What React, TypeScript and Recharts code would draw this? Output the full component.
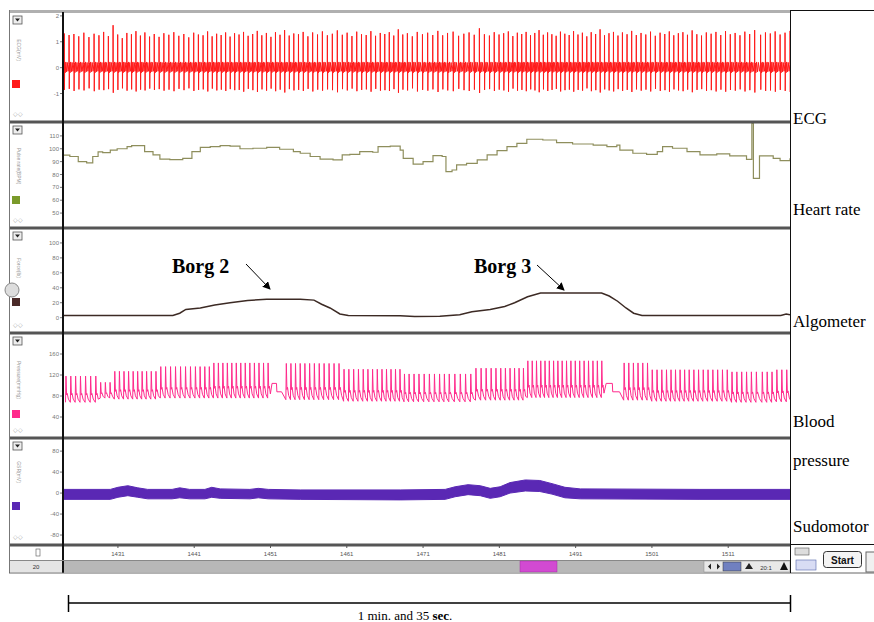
import React from "react";
import { LineChart, Line, XAxis, YAxis, ComposedChart, Area } from "recharts";

// visible time window (s)
const T0 = 1423.8;
const T1 = 1519.1;

const timeTicks = [1431, 1441, 1451, 1461, 1471, 1481, 1491, 1501, 1511];

// heart rate, step values [t, bpm]
const hrSteps = [
  [1423.8, 95], [1424.7, 94], [1425.8, 90], [1426.9, 89], [1427.7, 94], [1428.4, 97.5], [1429.0, 97],
  [1430.0, 99], [1430.9, 100], [1432.2, 101.6], [1432.8, 102.4], [1434.5, 97.7], [1435.6, 95.2],
  [1436.5, 92], [1437.8, 91.5], [1439.5, 92.6], [1440.7, 97.7], [1441.8, 101], [1443.1, 101.6],
  [1444.4, 102.4], [1445.7, 102], [1447.0, 100], [1448.7, 100.4], [1450.5, 101], [1452.2, 99.6],
  [1454.0, 97.7], [1454.9, 96.5], [1456.2, 94], [1457.5, 92], [1459.2, 91.3], [1460.4, 95.2],
  [1461.4, 95.7], [1462.7, 97.7], [1464.4, 97.3], [1465.1, 101.6], [1466.7, 102], [1468.0, 99],
  [1468.4, 92.6], [1469.7, 88], [1471.0, 90], [1472.3, 94.6], [1473.5, 94], [1474.0, 82.2],
  [1474.8, 83.5], [1475.4, 87.4], [1476.7, 88.7], [1478.1, 91.3], [1479.4, 95.2], [1480.7, 98.5],
  [1482.0, 101.6], [1483.3, 104.2], [1484.6, 107.4], [1486.7, 106.8], [1488.5, 104.7], [1490.6, 103.7],
  [1493.3, 102.9], [1495.1, 101.6], [1496.4, 102.9], [1496.8, 99], [1498.5, 96.5], [1500.3, 95.7],
  [1501.7, 97.7], [1502.4, 101.6], [1503.7, 100.4], [1505.6, 97.7], [1507.3, 95.2], [1509.5, 96],
  [1511.2, 94.4], [1513.4, 91.8], [1514.1, 119.8], [1514.3, 77], [1515.1, 94.4], [1516.9, 92.6],
  [1517.8, 90.8], [1519.1, 92.6],
];

// ECG R peaks and S troughs, one per beat (mV)
const ecgPeaks = [
  1.32, 1.26, 1.30, 1.21, 1.35, 1.18, 1.31, 1.25, 1.38, 1.22,
  1.64, 1.28, 1.14, 1.34, 1.29, 1.41, 1.24, 1.36, 1.20, 1.30,
  1.19, 1.33, 1.27, 1.37, 1.23, 1.30, 1.17, 1.35, 1.28, 1.25,
  1.40, 1.21, 1.31, 1.26, 1.36, 1.20, 1.33, 1.28, 1.38, 1.23,
  1.30, 1.42, 1.25, 1.34, 1.19, 1.37, 1.27, 1.45, 1.24, 1.32,
  1.29, 1.38, 1.21, 1.36, 1.28, 1.40, 1.25, 1.31, 1.44, 1.27,
  1.35, 1.22, 1.39, 1.29, 1.26, 1.41, 1.23, 1.34, 1.30, 1.37,
  1.24, 1.48, 1.28, 1.33, 1.21, 1.38, 1.29, 1.35, 1.26, 1.42,
  1.25, 1.34, 1.39, 1.23, 1.31, 1.36, 1.27, 1.52, 1.29, 1.24,
  1.37, 1.28, 1.33, 1.40, 1.22, 1.35, 1.30, 1.38, 1.25, 1.34,
  1.45, 1.27, 1.36, 1.29, 1.23, 1.39, 1.31, 1.26, 1.41, 1.28,
  1.35, 1.21, 1.37, 1.30, 1.48, 1.25, 1.33, 1.38, 1.24, 1.36,
  1.29, 1.42, 1.26, 1.34, 1.28, 1.39, 1.23, 1.35, 1.30, 1.40,
  1.25, 1.33, 1.37, 1.27, 1.44, 1.29, 1.24, 1.36, 1.31, 1.38,
  1.26, 1.41, 1.29, 1.34, 1.25, 1.39, 1.30, 1.45, 1.27, 1.36,
  1.32, 1.40, 1.28, 1.35, 1.42, 1.29, 1.38, 1.26, 1.44, 1.31,
];
const ecgTroughs = [
  -0.86, -0.82, -0.90, -0.84, -0.88, -0.80, -0.91, -0.85, -0.87, -0.83,
  -0.97, -0.86, -0.80, -0.89, -0.84, -0.92, -0.85, -0.88, -0.81, -0.86,
  -0.83, -0.89, -0.85, -0.91, -0.82, -0.87, -0.80, -0.90, -0.86, -0.84,
  -0.92, -0.81, -0.88, -0.85, -0.90, -0.83, -0.87, -0.86, -0.93, -0.82,
  -0.87, -0.94, -0.84, -0.89, -0.81, -0.91, -0.85, -0.96, -0.83, -0.88,
  -0.86, -0.90, -0.82, -0.92, -0.85, -0.89, -0.84, -0.87, -0.95, -0.83,
  -0.88, -0.81, -0.91, -0.86, -0.84, -0.93, -0.82, -0.89, -0.87, -0.90,
  -0.83, -0.97, -0.85, -0.88, -0.80, -0.92, -0.86, -0.89, -0.84, -0.94,
  -0.84, -0.88, -0.91, -0.82, -0.87, -0.90, -0.85, -0.98, -0.86, -0.83,
  -0.90, -0.85, -0.88, -0.93, -0.81, -0.89, -0.86, -0.91, -0.84, -0.88,
  -0.95, -0.84, -0.90, -0.86, -0.82, -0.92, -0.87, -0.85, -0.93, -0.86,
  -0.89, -0.80, -0.91, -0.87, -0.96, -0.84, -0.88, -0.92, -0.83, -0.90,
  -0.86, -0.94, -0.84, -0.89, -0.85, -0.92, -0.82, -0.90, -0.87, -0.93,
  -0.84, -0.88, -0.91, -0.85, -0.95, -0.86, -0.83, -0.90, -0.87, -0.92,
  -0.85, -0.93, -0.86, -0.89, -0.84, -0.92, -0.87, -0.96, -0.85, -0.90,
  -0.88, -0.93, -0.86, -0.90, -0.94, -0.86, -0.91, -0.84, -0.95, -0.88,
];
// baseline P/T wobble of the ECG between beats, [fraction of RR, mV]
const ecgWobble = [[0.11, 0.18], [0.22, -0.2], [0.35, 0.22], [0.5, -0.16], [0.66, 0.2], [0.82, -0.14]];

// algometer force [t, value]
const algPoints = [
  [1423.8, 3], [1438.2, 3], [1439.1, 6], [1439.9, 11], [1441.8, 13], [1443.7, 17], [1445.7, 20],
  [1448.0, 23], [1450.5, 24.5], [1454.9, 24.5], [1456.7, 23.5], [1457.7, 18], [1458.8, 13],
  [1460.1, 5], [1461.2, 3], [1468.0, 2.5], [1469.9, 1.5], [1473.2, 2], [1475.8, 4], [1477.4, 8],
  [1479.8, 11], [1481.7, 15], [1483.0, 20], [1484.7, 28], [1486.4, 33], [1494.4, 33], [1495.4, 29],
  [1496.5, 22], [1497.6, 13], [1498.6, 6], [1499.7, 3], [1507.3, 3], [1517.9, 3], [1518.6, 5],
  [1519.1, 4],
];

// blood pressure per stretch [from t, systolic, diastolic]
const bpSegments = [
  [1423.8, 118, 68], [1428.6, 106, 76], [1430.2, 127, 74], [1436.5, 136, 76], [1443.1, 143, 76],
  [1452.5, 142, 73], [1460.1, 131, 70], [1468.0, 122, 69], [1477.5, 133, 72], [1484.4, 147, 77],
  [1496.8, 143, 72], [1500.7, 130, 70], [1511.2, 126, 68], [1517.1, 130, 69],
];
// flat calibration gaps [from, to, high level, low level]
const bpGaps = [
  [1451.2, 1452.5, 104, 88],
  [1495.0, 1496.8, 104, 88],
];

// sudomotor band [t, low, high]
const sudoPoints = [
  [1423.8, -12, 7], [1430.0, -12, 7], [1431.0, -8, 11], [1432.3, -5, 14], [1433.6, -8, 10],
  [1434.9, -11, 7], [1438.1, -11, 7], [1439.1, -9, 10], [1440.4, -11, 7], [1442.4, -11, 7],
  [1443.3, -8, 11], [1444.4, -10, 8], [1448.3, -11, 7], [1449.4, -9, 9], [1450.7, -11, 7],
  [1454.9, -12, 6], [1468.0, -13, 6], [1473.9, -12, 7], [1475.2, -7, 12], [1476.9, -3, 16],
  [1478.5, -5, 14], [1479.8, -10, 9], [1481.1, -7, 12], [1482.4, 0, 20], [1484.4, 4, 25],
  [1486.3, 3, 24], [1487.9, -2, 18], [1489.6, -9, 11], [1491.6, -11, 8], [1507.3, -12, 7],
  [1519.1, -12, 7],
];

const hrAt = (t: number) => {
  let v = hrSteps[0][1];
  for (const s of hrSteps) if (s[0] <= t) v = s[1];
  return v;
};

// beat times follow the recorded heart rate
const beats: number[] = [];
for (let t = 1423.95; t < T1 + 1; t += 60 / hrAt(t)) beats.push(t);

const ecgData = beats.flatMap((t, i) => {
  const rr = 60 / hrAt(t);
  return [
    { t, v: 0.12 },
    { t: t + 0.015, v: ecgPeaks[i] ?? 1.3 },
    { t: t + 0.04, v: ecgTroughs[i] ?? -0.87 },
    ...ecgWobble.map(([f, v]) => ({ t: t + f * rr, v })),
  ];
});

const hrData = hrSteps.map(([t, v]) => ({ t, v }));
const algData = algPoints.map(([t, v]) => ({ t, v }));

const bpData: { t: number; v: number }[] = [];
beats.forEach((b) => {
  const t = b + 0.18;
  const rr = 60 / hrAt(b);
  if (bpGaps.some(([a, z]) => t >= a - 0.4 && t < z)) return;
  let seg = bpSegments[0];
  for (const s of bpSegments) if (s[0] <= t) seg = s;
  const [, sys, dia] = seg;
  const pp = sys - dia;
  bpData.push(
    { t, v: dia },
    { t: t + 0.06, v: sys },
    { t: t + 0.14, v: dia + 0.28 * pp },
    { t: t + 0.22, v: dia + 0.34 * pp },
    { t: t + rr * 0.6, v: dia + 0.12 * pp },
  );
});
bpGaps.forEach(([a, z, hi, lo]) => {
  const m = a + (z - a) * 0.45;
  bpData.push({ t: a, v: hi }, { t: m, v: hi }, { t: m + 0.05, v: lo }, { t: z - 0.05, v: lo });
});
bpData.sort((p, q) => p.t - q.t);

const sudoData = sudoPoints.map(([t, lo, hi]) => ({ t, band: [lo, hi] }));

const panels = [
  { top: 12, h: 110, color: "#ff1a1a", label: "ECG(mV)", sq: 68 },
  { top: 122, h: 106, color: "#7a9a2a", label: "Pulse rate(BPM)", sq: 74 },
  { top: 228, h: 105, color: "#4a2a28", label: "Force(lb)", sq: 70 },
  { top: 333, h: 105, color: "#ff2a8c", label: "Pressure(mmHg)", sq: 77 },
  { top: 438, h: 107, color: "#5a28b4", label: "GSR(mV)", sq: 64 },
];

const rightLabels = [
  { text: "ECG", y: 124 },
  { text: "Heart rate", y: 215 },
  { text: "Algometer", y: 327 },
  { text: "Blood", y: 427 },
  { text: "pressure", y: 466 },
  { text: "Sudomotor", y: 532 },
];

const yTick = { fontSize: 6, fill: "#777", fontFamily: "Arial, sans-serif" };
const margin = { top: 0, right: 0, bottom: 0, left: 0 };

function yAxis(domain: number[], ticks: number[]) {
  return (
    <YAxis
      width={53}
      domain={domain}
      ticks={ticks}
      interval={0}
      allowDataOverflow
      axisLine={false}
      tickSize={3}
      tickMargin={1}
      tick={yTick}
      tickLine={{ stroke: "#777" }}
    />
  );
}

const xHidden = <XAxis type="number" dataKey="t" domain={[T0, T1]} hide allowDataOverflow />;

function Decor() {
  const serif = '"Liberation Serif", "Times New Roman", serif';
  return (
    <svg width={874} height={622} style={{ position: "absolute", left: 0, top: 0, pointerEvents: "none" }}>
      <defs>
        <marker id="ah" markerWidth="8" markerHeight="8" refX="7" refY="4" orient="auto">
          <path d="M0,0 L8,4 L0,8 Z" fill="#000" />
        </marker>
      </defs>
      {/* window frame */}
      <rect x={10} y={10} width={780} height={3} fill="#b0b0b0" />
      <line x1={9.5} y1={10} x2={9.5} y2={573} stroke="#777" />
      {panels.map((p, i) => (
        <g key={i}>
          <rect x={10} y={p.top + p.h - 1.5} width={780} height={3} fill="#555" />
          <rect x={13} y={p.top + 4} width={9} height={8} fill="#eee" stroke="#555" strokeWidth={0.8} />
          <path d={`M15,${p.top + 6.5} L20,${p.top + 6.5} L17.5,${p.top + 9.5} Z`} fill="#222" />
          <text
            x={17}
            y={p.top + p.sq - 30}
            transform={`rotate(90 17 ${p.top + p.sq - 30})`}
            fontSize={5}
            fill="#999"
            textAnchor="middle"
            fontFamily="Arial, sans-serif"
          >
            {p.label}
          </text>
          <rect x={12} y={p.top + p.sq} width={8} height={8} fill={p.color} />
          <text x={13} y={p.top + p.h - 6} fontSize={6} fill="#999" fontFamily="Arial, sans-serif">
            ◇◇
          </text>
        </g>
      ))}
      <circle cx={12} cy={290} r={7} fill="#ddd" stroke="#888" />
      <rect x={62} y={12} width={2} height={561} fill="#111" />

      {/* bottom rows */}
      <line x1={10} y1={560.5} x2={790} y2={560.5} stroke="#888" />
      <rect x={64} y={561} width={640} height={11} fill="#b8b8b8" />
      <rect x={520} y={561} width={37} height={11} fill="#d24ad2" stroke="#a030a0" strokeWidth={0.5} />
      <rect x={10} y={561} width={52} height={11} fill="#e4e4e4" />
      <text x={36} y={569} fontSize={6} fill="#333" textAnchor="middle" fontFamily="Arial, sans-serif">20</text>
      <rect x={36} y={549} width={4} height={7} fill="#fff" stroke="#555" strokeWidth={0.6} />
      <rect x={704} y={561} width={86} height={11} fill="#e8e8e8" stroke="#888" strokeWidth={0.5} />
      <path d="M708,566.5 L711,563.5 L711,569.5 Z M717,563.5 L720,566.5 L717,569.5 Z" fill="#222" />
      <rect x={723} y={562} width={18} height={9} fill="#7080c0" stroke="#333" strokeWidth={0.5} />
      <path d="M745,569 L749,563 L753,569 Z" fill="#222" />
      <text x={766} y={569.5} fontSize={6} fill="#333" textAnchor="middle" fontFamily="Arial, sans-serif">20:1</text>
      <path d="M780,570 L784,562 L788,570 Z" fill="#111" />
      <line x1={9} y1={573} x2={874} y2={573} stroke="#666" />

      {/* right box */}
      <line x1={790.5} y1={10} x2={790.5} y2={573} stroke="#111" />
      <line x1={790} y1={10.5} x2={874} y2={10.5} stroke="#111" />
      <line x1={790} y1={544.5} x2={874} y2={544.5} stroke="#111" />
      <rect x={795} y={548} width={14} height={7} fill="#ddd" stroke="#555" strokeWidth={0.6} />
      <rect x={796} y={560} width={20} height={10} fill="#d8dcf4" stroke="#5566aa" strokeWidth={0.6} />
      <rect x={823.5} y={551.5} width={38} height={16} rx={3} fill="#f4f4f4" stroke="#333" />
      <text x={842.5} y={563.5} fontSize={10} fontWeight="bold" fill="#111" textAnchor="middle" fontFamily="Arial, sans-serif">
        Start
      </text>
      <rect x={866} y={552} width={10} height={20} fill="#f0f0f0" stroke="#666" />
      {rightLabels.map((l) => (
        <text key={l.text} x={793} y={l.y} fontSize={17} fontFamily={serif} fill="#000">
          {l.text}
        </text>
      ))}

      {/* annotations */}
      <text x={172} y={273} fontSize={20} fontWeight="bold" fontFamily={serif}>Borg 2</text>
      <line x1={246} y1={264} x2={270} y2={289} stroke="#000" strokeWidth={1} markerEnd="url(#ah)" />
      <text x={474} y={273} fontSize={20} fontWeight="bold" fontFamily={serif}>Borg 3</text>
      <line x1={537} y1={265} x2={564} y2={290} stroke="#000" strokeWidth={1} markerEnd="url(#ah)" />

      {/* scale bar */}
      <line x1={68} y1={603} x2={791} y2={603} stroke="#000" strokeWidth={1.5} />
      <line x1={68.5} y1={595} x2={68.5} y2={612} stroke="#000" strokeWidth={1.5} />
      <line x1={790.5} y1={595} x2={790.5} y2={612} stroke="#000" strokeWidth={1.5} />
      <text x={405} y={620} fontSize={13} textAnchor="middle" fontFamily={serif}>
        1 min. and 35 <tspan fontWeight="bold">sec</tspan>.
      </text>
    </svg>
  );
}

export default function App() {
  return (
    <div style={{ height: 606 }}>
      <div style={{ position: "fixed", left: 0, top: 0, width: 874, height: 622, background: "#fff", overflow: "hidden" }}>
        <div style={{ position: "absolute", left: 10, top: 12 }}>
          <LineChart width={780} height={110} data={ecgData} margin={margin}>
            {xHidden}
            {yAxis([-2.1, 2.15], [-1, 0, 1, 2])}
            <Line dataKey="v" stroke="#ff1a1a" strokeWidth={1} dot={false} isAnimationActive={false} />
          </LineChart>
        </div>
        <div style={{ position: "absolute", left: 10, top: 122 }}>
          <LineChart width={780} height={106} data={hrData} margin={margin}>
            {xHidden}
            {yAxis([38.4, 120.8], [50, 60, 70, 80, 90, 100, 110])}
            <Line type="stepAfter" dataKey="v" stroke="#8e8e5c" strokeWidth={1.2} dot={false} isAnimationActive={false} />
          </LineChart>
        </div>
        <div style={{ position: "absolute", left: 10, top: 228 }}>
          <LineChart width={780} height={105} data={algData} margin={margin}>
            {xHidden}
            {yAxis([-20.5, 120], [0, 20, 40, 60, 80, 100])}
            <Line dataKey="v" stroke="#3c2a24" strokeWidth={1.5} dot={false} isAnimationActive={false} />
          </LineChart>
        </div>
        <div style={{ position: "absolute", left: 10, top: 333 }}>
          <LineChart width={780} height={105} data={bpData} margin={margin}>
            {xHidden}
            {yAxis([0, 200], [40, 80, 120, 160])}
            <Line dataKey="v" stroke="#ff2a8c" strokeWidth={1} dot={false} isAnimationActive={false} />
          </LineChart>
        </div>
        <div style={{ position: "absolute", left: 10, top: 438 }}>
          <ComposedChart width={780} height={122} data={sudoData} margin={margin}>
            <XAxis
              type="number"
              dataKey="t"
              domain={[T0, T1]}
              allowDataOverflow
              ticks={timeTicks}
              interval={0}
              height={15}
              axisLine={false}
              tickSize={3}
              tickMargin={4}
              tick={{ fontSize: 6, fill: "#555", fontFamily: "Arial, sans-serif" }}
              tickLine={{ stroke: "#555" }}
            />
            {yAxis([-99, 105], [-80, -40, 0, 40, 80])}
            <Area
              dataKey="band"
              stroke="#5a28b4"
              strokeWidth={1}
              fill="#5a28b4"
              fillOpacity={1}
              isAnimationActive={false}
            />
          </ComposedChart>
        </div>
        <Decor />
      </div>
    </div>
  );
}
